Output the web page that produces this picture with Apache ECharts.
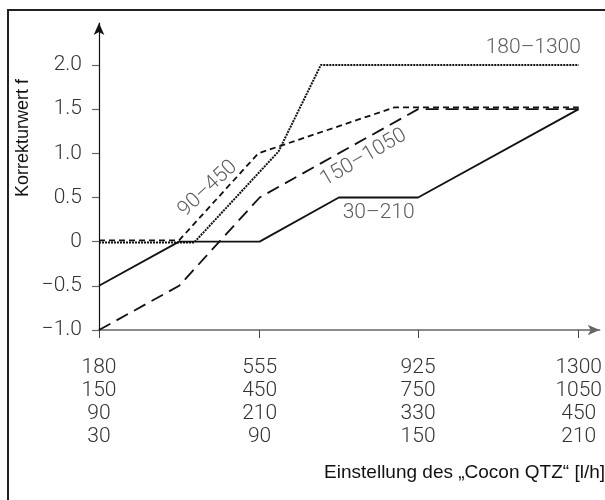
<!DOCTYPE html>
<html>
<head>
<meta charset="utf-8">
<script src="https://cdn.jsdelivr.net/npm/echarts@6/dist/echarts.min.js"></script>
<style>html,body{margin:0;padding:0;background:#fff}#c{width:605px;height:500px}</style>
</head>
<body>
<div id="c"></div>
<script>
// tick scales (four rows of labels under each tick)
const scale180_1300 = [180, 555, 925, 1300];
const scale150_1050 = [150, 450, 750, 1050];
const scale90_450 = [90, 210, 330, 450];
const scale30_210 = [30, 90, 150, 210];
const yTicks = [-1.0, -0.5, 0, 0.5, 1.0, 1.5, 2.0];
const yTickLabels = ['\u22121.0', '\u22120.5', '0', '0.5', '1.0', '1.5', '2.0'];

// curves, plotted against the 180–1300 scale
const s180_1300 = [[180, -0.01], [402, -0.01], [599, 1.02], [698, 2.0], [1300, 2.0]];
const s150_1050 = [[180, -1.0], [367, -0.5], [555, 0.5], [925, 1.5], [1300, 1.5]];
const s90_450 = [[180, 0.015], [367, 0.015], [552, 1.0], [870, 1.52], [1300, 1.52]];
const s30_210 = [[180, -0.5], [367, 0], [555, 0], [740, 0.5], [925, 0.5], [1300, 1.5]];

// curve names and where their labels sit
const curveNames = ['180\u20131300', '150\u20131050', '90\u2013450', '30\u2013210'];
const labelAnchors = [[1194, 2.2], [798, 0.95], [434, 0.6], [833, 0.33]];
const labelAngles = [0, 30, 43, 0];

const chart = echarts.init(document.getElementById('c'));
const thinFont = 'Roboto';
const lineColor = '#111';

const curveSeries = [
  {data: s180_1300, dash: [2, 1], w: 2},
  {data: s150_1050, dash: [13, 7], w: 1.8},
  {data: s90_450, dash: [6, 4], w: 1.8},
  {data: s30_210, dash: 'solid', w: 1.8}
].map(c => ({
  type: 'line', data: c.data, symbol: 'none', silent: true,
  lineStyle: {color: lineColor, width: c.w, type: c.dash}
}));

chart.setOption({
  animation: false,
  grid: {left: 99, top: 23, width: 505, height: 307},
  xAxis: {
    type: 'value', min: 180, max: 1349,
    splitLine: {show: false},
    axisLine: {show: true, onZero: false, lineStyle: {color: '#666', width: 1.5}, symbol: ['none', 'arrow'], symbolSize: [8, 12]},
    axisTick: {show: true, length: 8, customValues: scale180_1300, lineStyle: {color: '#444', width: 1}},
    axisLabel: {
      customValues: scale180_1300, margin: 26,
      fontFamily: thinFont, fontWeight: 300, fontSize: 21, lineHeight: 23, color: '#333',
      formatter: v => {
        const i = scale180_1300.indexOf(v);
        return [scale180_1300[i], scale150_1050[i], scale90_450[i], scale30_210[i]].join('\n');
      }
    }
  },
  yAxis: {
    type: 'value', min: -1.0, max: 2.475,
    splitLine: {show: false},
    axisLine: {show: true, onZero: false, lineStyle: {color: '#111', width: 1.2}, symbol: ['none', 'arrow'], symbolSize: [8, 12]},
    axisTick: {show: true, length: 7, customValues: yTicks, lineStyle: {color: '#666', width: 1.2}},
    axisLabel: {
      customValues: yTicks, margin: 17,
      fontFamily: thinFont, fontWeight: 300, fontSize: 21, color: '#333',
      formatter: v => yTickLabels[yTicks.indexOf(v)]
    }
  },
  series: curveSeries.concat([{
    type: 'scatter', symbolSize: 0, silent: true,
    data: labelAnchors.map((p, i) => ({
      value: p,
      label: {show: true, position: 'inside', formatter: curveNames[i], rotate: labelAngles[i],
        fontFamily: thinFont, fontWeight: 300, fontSize: 21, color: '#333'}
    }))
  }]),
  graphic: [
    {type: 'rect', shape: {x: 8, y: 10, width: 640, height: 540}, style: {fill: 'none', stroke: '#222', lineWidth: 2}, silent: true},
    {type: 'text', x: 23, y: 138, rotation: Math.PI / 2,
      style: {text: 'Korrekturwert f', font: '18px "Liberation Sans"', fill: '#111', align: 'center', verticalAlign: 'middle'}},
    {type: 'text', x: 605, y: 473,
      style: {text: 'Einstellung des \u201eCocon QTZ\u201c [l/h]', font: '19px "Liberation Sans"', fill: '#111', align: 'right', verticalAlign: 'middle'}}
  ]
});
</script>
</body>
</html>
